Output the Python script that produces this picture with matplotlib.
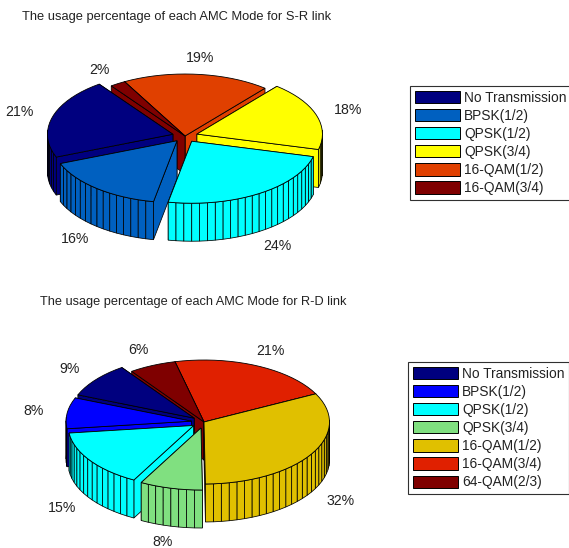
import numpy as np
import matplotlib
matplotlib.use('Agg')
import matplotlib.pyplot as plt
from matplotlib.patches import Polygon, Patch

plt.rcParams['font.family'] = ['Liberation Sans', 'DejaVu Sans']

W, H = 569, 548

# S-R link
sr_title = 'The usage percentage of each AMC Mode for S-R link'
sr_modes = ['No Transmission', 'BPSK(1/2)', 'QPSK(1/2)', 'QPSK(3/4)', '16-QAM(1/2)', '16-QAM(3/4)']
sr_values = [21, 16, 24, 18, 19, 2]
sr_explode = [0.1, 0.1, 0.1, 0.1, 0, 0]
sr_colors = ['#00007f', '#0060c0', '#00ffff', '#ffff00', '#e04000', '#7f0000']

# R-D link
rd_title = 'The usage percentage of each AMC Mode for R-D link'
rd_modes = ['No Transmission', 'BPSK(1/2)', 'QPSK(1/2)', 'QPSK(3/4)', '16-QAM(1/2)', '16-QAM(3/4)', '64-QAM(2/3)']
rd_values = [9, 8, 15, 8, 32, 21, 6]
rd_explode = [0.1, 0.1, 0.1, 0.1, 0, 0, 0]
rd_colors = ['#00007f', '#0000ff', '#00ffff', '#80e080', '#e0c000', '#e02000', '#7f0000']

RX, RY, DEPTH = 125.5, 62, 38   # pixels per pie radius, and wall height


def pie_axes(cx, cy, top, bottom):
    # axes in unit-pie coordinates, origin on the pie centre
    ax = fig.add_axes([0, 1 - bottom / H, 1, (bottom - top) / H])
    ax.set_xlim(-cx / RX, (W - cx) / RX)
    ax.set_ylim((cy - bottom) / RY, (cy - top) / RY)
    ax.axis('off')
    return ax


def pie3(ax, values, explode, colors, start):
    total = sum(values)
    depth = DEPTH / RY
    edges = start + np.cumsum([0] + values) / total * 360
    mids = np.radians((edges[:-1] + edges[1:]) / 2)

    # far slices first so the near ones paint over them,
    # the small cos term breaks ties in favour of the left-hand slice
    for i in np.argsort(-(np.sin(mids) + 0.03 * np.cos(mids))):
        ox = explode[i] * np.cos(mids[i])
        oy = explode[i] * np.sin(mids[i])
        th = np.radians(np.linspace(edges[i], edges[i + 1], values[i] + 1))
        xs = ox + np.cos(th)
        ys = oy + np.sin(th)

        walls = []
        for x, y in [(xs[0], ys[0]), (xs[-1], ys[-1])]:
            walls.append([(ox, oy), (x, y), (x, y - depth), (ox, oy - depth)])
        for k in range(values[i]):
            if np.sin((th[k] + th[k + 1]) / 2) < 0.05:
                walls.append([(xs[k], ys[k]), (xs[k + 1], ys[k + 1]),
                              (xs[k + 1], ys[k + 1] - depth), (xs[k], ys[k] - depth)])
        walls.sort(key=lambda q: -np.mean([p[1] for p in q]))
        for q in walls:
            ax.add_patch(Polygon(q, closed=True, fc=colors[i], ec='black', lw=0.55))
        cap = [(ox, oy)] + list(zip(xs, ys))
        ax.add_patch(Polygon(cap, closed=True, fc=colors[i], ec='black', lw=0.6))

        # percentage labels sit outside the rim, below the wall on the near side
        r = 1.27 + explode[i]
        lx = r * np.cos(mids[i])
        ly = r * np.sin(mids[i])
        if np.sin(mids[i]) < 0:
            ly -= depth
        ax.text(lx, ly, '%d%%' % values[i], ha='center', va='center',
                fontsize=10.2, color='#222222', clip_on=False)


def mode_legend(modes, colors, left, top):
    handles = [Patch(fc=c, ec='black', lw=0.7) for c in colors]
    leg = fig.legend(handles, modes, loc='upper left', bbox_to_anchor=(left / W, 1 - top / H),
                     borderaxespad=0, fontsize=9.9, fancybox=False, framealpha=1,
                     edgecolor='#303030', handlelength=3.3, handleheight=1.0,
                     labelspacing=0.3, handletextpad=0.3, borderpad=0.34)
    leg.get_frame().set_linewidth(0.8)
    for t in leg.get_texts():
        t.set_color('#222222')


fig = plt.figure(figsize=(W / 100, H / 100), dpi=100, facecolor='white')

fig.text(22 / W, 1 - 17 / H, sr_title, fontsize=9.25, va='center', color='#222222')
fig.text(40 / W, 1 - 302 / H, rd_title, fontsize=9.2, va='center', color='#222222')

pie3(pie_axes(185, 136, 30, 270), sr_values, sr_explode, sr_colors, 126)
pie3(pie_axes(204, 422, 320, 548), rd_values, rd_explode, rd_colors, 125.2)

mode_legend(sr_modes, sr_colors, 410, 86)
mode_legend(rd_modes, rd_colors, 408, 362)

fig.savefig('out.png', dpi=100)
